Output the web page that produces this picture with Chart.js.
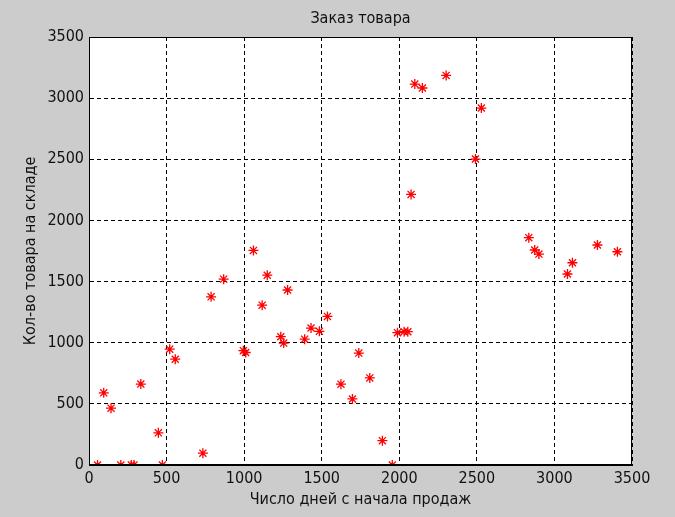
<!DOCTYPE html>
<html>
<head>
<meta charset="utf-8">
<script src="https://cdn.jsdelivr.net/npm/chart.js@4"></script>
<style>
  html, body { margin: 0; padding: 0; background: #cccccc; }
  #wrap { width: 675px; height: 517px; }
</style>
</head>
<body>
<div id="wrap"><canvas id="orderChart" width="675" height="517"></canvas></div>
<script>
// days since start of sales / items in stock
var days = [55, 95, 142, 205, 273, 290, 334, 447, 473, 520, 556, 734, 787, 868, 995, 1010,
    1060, 1116, 1149, 1280, 1236, 1255, 1390, 1431, 1485, 1537, 1624, 1698, 1739, 1810,
    1891, 1955, 1988, 2031, 2055, 2076, 2100, 2149, 2302, 2491, 2529, 2835, 2873, 2900,
    3084, 3116, 3277, 3406];
var stock = [0, 590, 465, 0, 0, 0, 662, 263, 0, 947, 865, 97, 1375, 1520, 935, 920,
    1755, 1307, 1552, 1431, 1049, 997, 1029, 1120, 1093, 1215, 661, 540, 915, 712,
    199, 0, 1082, 1090, 1090, 2213, 3115, 3083, 3186, 2502, 2919, 1859, 1758, 1725,
    1562, 1654, 1799, 1744];

var points = days.map(function (d, i) { return { x: d, y: stock[i] }; });

var fontFamily = "'Liberation Sans Narrow', 'DejaVu Sans Condensed', 'Liberation Sans', sans-serif";
var textColor = '#111111';

// white plot area + black box like matlab axes
var boxPlugin = {
    id: 'box',
    beforeDraw: function (chart) {
        var a = chart.chartArea, c = chart.ctx;
        c.save();
        c.fillStyle = '#ffffff';
        c.fillRect(a.left, a.top, a.right - a.left, a.bottom - a.top);
        c.restore();
    },
    afterDraw: function (chart) {
        var a = chart.chartArea, c = chart.ctx;
        c.save();
        c.strokeStyle = '#000000';
        c.lineWidth = 1;
        c.strokeRect(a.left + 0.5, a.top + 0.5, a.right - a.left - 1, a.bottom - a.top - 1);
        c.restore();
    }
};

function plainTick(v) { return String(v); }

var ctx = document.getElementById('orderChart').getContext('2d');
var chart = new Chart(ctx, {
    type: 'scatter',
    data: {
        datasets: [{
            label: 'Заказ',
            data: points,
            pointStyle: 'star',
            pointRadius: 5,
            pointBorderWidth: 1.3,
            borderColor: '#ff0000',
            backgroundColor: '#ff0000'
        }]
    },
    options: {
        responsive: false,
        animation: false,
        layout: { padding: { left: 0, right: 43, top: 0, bottom: 0 } },
        plugins: {
            legend: { display: false },
            tooltip: { enabled: false }
        },
        scales: {
            x: {
                type: 'linear',
                min: 0,
                max: 3500,
                ticks: {
                    stepSize: 500,
                    color: textColor,
                    padding: 4,
                    maxRotation: 0,
                    callback: plainTick,
                    font: { family: fontFamily, size: 16 }
                },
                grid: { color: '#000000', drawTicks: false },
                border: { display: true, color: '#000000', dash: [4, 3] },
                title: {
                    display: true,
                    text: 'Число дней с начала продаж',
                    color: textColor,
                    font: { family: fontFamily, size: 16 },
                    padding: { top: 0, bottom: 8 }
                },
                afterFit: function (scale) { scale.height = 52; }
            },
            // top axis only carries the chart title, centred over the plot
            xTop: {
                type: 'linear',
                position: 'top',
                min: 0,
                max: 3500,
                ticks: { display: false },
                grid: { display: false, drawTicks: false },
                border: { display: false },
                title: {
                    display: true,
                    text: 'Заказ товара',
                    color: textColor,
                    font: { family: fontFamily, size: 16 },
                    padding: { top: 9, bottom: 0 }
                },
                afterFit: function (scale) { scale.height = 37; }
            },
            y: {
                type: 'linear',
                min: 0,
                max: 3500,
                ticks: {
                    stepSize: 500,
                    color: textColor,
                    padding: 5,
                    callback: plainTick,
                    font: { family: fontFamily, size: 16 }
                },
                grid: { color: '#000000', drawTicks: false },
                border: { display: true, color: '#000000', dash: [4, 3] },
                title: {
                    display: true,
                    text: 'Кол-во товара на складе',
                    color: textColor,
                    font: { family: fontFamily, size: 16 },
                    padding: { top: 21, bottom: 0 }
                },
                afterFit: function (scale) { scale.width = 89; }
            }
        }
    },
    plugins: [boxPlugin]
});
</script>
</body>
</html>
